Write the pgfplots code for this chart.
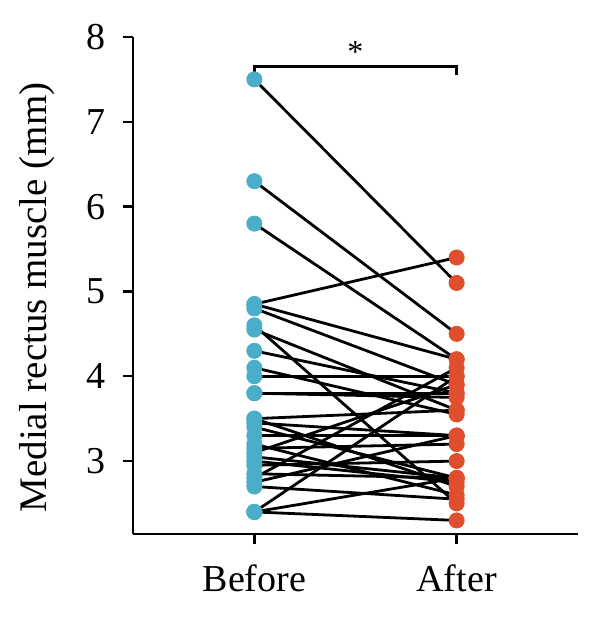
\documentclass[border=0pt]{standalone}
\usepackage{pgfplots}
\pgfplotsset{compat=1.18}
\usepackage{fontspec}
\setmainfont{Liberation Serif}
\definecolor{cblue}{HTML}{4AAEC9}
\definecolor{cred}{HTML}{DF4F2E}
\newcommand{\pair}[2]{\addplot[black, line width=1.4pt] coordinates {(0,#1) (1,#2)};}
\begin{document}
\begin{tikzpicture}
\useasboundingbox (-66.5pt,-41.5pt) rectangle (233.5pt,267pt);
\begin{axis}[
  width=222.5pt, height=248.5pt, scale only axis,
  xmin=-0.6, xmax=1.6, ymin=2.14, ymax=8,
  axis x line*=bottom, axis y line*=left,
  axis line style={-, line width=1.2pt},
  xtick={0,1}, xticklabels={Before,After},
  ytick={3,4,5,6,7,8},
  tick align=outside, major tick length=5pt,
  tick style={line width=1.2pt, black},
  /pgf/number format/assume math mode=true,
  ticklabel style={font=\fontsize{19}{22}\selectfont},
  xticklabel style={yshift=-7pt},
  yticklabel style={xshift=-5pt},
  ylabel={Medial rectus muscle (mm)},
  ylabel style={font=\fontsize{19.5}{23}\selectfont, yshift=9pt, xshift=-6pt},
  clip=false,
]
\pair{7.5}{5.1}
\pair{6.3}{4.5}
\pair{5.8}{4.2}
\pair{4.85}{5.4}
\pair{4.85}{4.2}
\pair{4.8}{3.9}
\pair{4.6}{2.5}
\pair{4.55}{3.6}
\pair{4.3}{3.8}
\pair{4.1}{3.55}
\pair{4.0}{4.0}
\pair{3.8}{3.8}
\pair{3.8}{3.75}
\pair{3.5}{3.6}
\pair{3.5}{2.7}
\pair{3.45}{3.3}
\pair{3.4}{2.8}
\pair{3.3}{3.3}
\pair{3.2}{2.6}
\pair{3.15}{3.2}
\pair{3.1}{3.9}
\pair{3.05}{2.8}
\pair{3.0}{2.75}
\pair{2.95}{3.0}
\pair{2.85}{2.8}
\pair{2.8}{4.1}
\pair{2.75}{3.3}
\pair{2.7}{2.55}
\pair{2.4}{4.0}
\pair{2.4}{2.8}
\pair{2.4}{2.3}
\addplot[only marks, mark=*, mark size=3.8pt, color=cblue] coordinates {
(0,7.5) (0,6.3) (0,5.8) (0,4.85) (0,4.85) (0,4.8) (0,4.6) (0,4.55) (0,4.3) (0,4.1) (0,4.0)
(0,3.8) (0,3.8) (0,3.5) (0,3.5) (0,3.45) (0,3.4) (0,3.3) (0,3.2) (0,3.15) (0,3.1) (0,3.05)
(0,3.0) (0,2.95) (0,2.85) (0,2.8) (0,2.75) (0,2.7) (0,2.4) (0,2.4) (0,2.4)};
\addplot[only marks, mark=*, mark size=3.8pt, color=cred] coordinates {
(1,5.1) (1,4.5) (1,4.2) (1,5.4) (1,4.2) (1,3.9) (1,2.5) (1,3.6) (1,3.8) (1,3.55) (1,4.0)
(1,3.8) (1,3.75) (1,3.6) (1,2.7) (1,3.3) (1,2.8) (1,3.3) (1,2.6) (1,3.2) (1,3.9) (1,2.8)
(1,2.75) (1,3.0) (1,2.8) (1,4.1) (1,3.3) (1,2.55) (1,4.0) (1,2.8) (1,2.3)};
\draw[line width=1.2pt] (axis cs:0,7.55) -- (axis cs:0,7.65) -- (axis cs:1,7.65) -- (axis cs:1,7.55);
\node[anchor=center, inner sep=0pt, font=\fontsize{16}{19}\selectfont] at (axis cs:0.5,7.82) {*};
\end{axis}
\end{tikzpicture}
\end{document}
